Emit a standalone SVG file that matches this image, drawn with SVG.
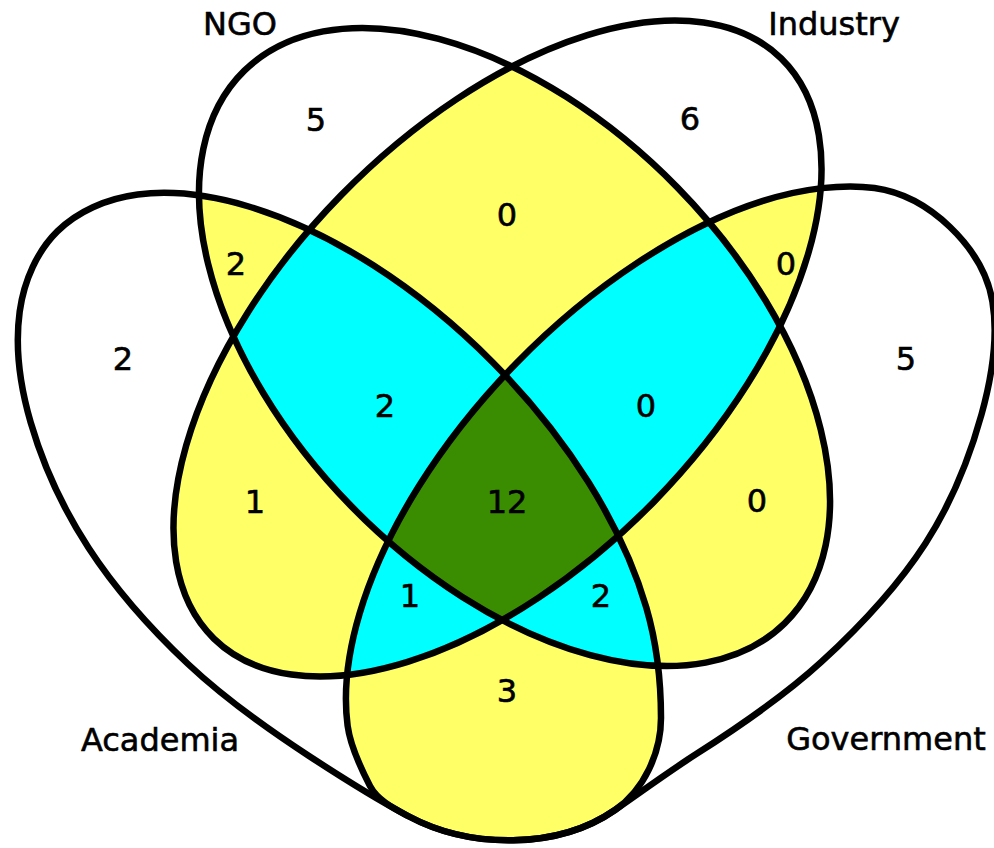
<svg xmlns="http://www.w3.org/2000/svg" width="994" height="848" viewBox="0 0 994 848">
  <style>
    .edge { fill: none; stroke: #000; stroke-width: 6.5; }
    .two { fill: #ffff66; }
    .three { fill: #00ffff; }
    .four { fill: #3a8c00; }
    text { font-family: "DejaVu Sans", "Liberation Sans", sans-serif; font-size: 32px; fill: #000; stroke: #000; stroke-width: 0.6px; text-anchor: middle; }
  </style>
  <defs>
    <!-- the four set outlines; Academia and Government share their bottom arc -->
    <ellipse id="shNGO" cx="0" cy="0" rx="386.4" ry="228" transform="translate(514.5 347) rotate(45.65)"/>
    <ellipse id="shInd" cx="0" cy="0" rx="405.7" ry="219" transform="translate(497.5 348.5) rotate(-45.64)"/>
    <path id="shAca" d="M661,718 C661,752 644.5,789.5 615,810 C557.6,849.9 469.6,848.9 408,816 C375.4,798.6 349.2,782.3 309,756 C268.8,729.7 224.8,698.7 188,664 C151.3,629.3 114.7,588.0 88.5,547.7 C62.3,507.5 42.2,461.9 30.7,422.5 C19.2,383.1 15.3,343.4 19.7,311.5 C24.1,279.7 37.6,250.9 57.3,231.4 C77.0,211.9 105.8,198.7 137.7,194.5 C169.6,190.4 209.4,194.7 248.7,206.5 C288.0,218.3 332.7,239.4 373.3,265.3 C414.0,291.3 456.7,326.0 492.6,362.2 C528.5,398.4 562.9,441.4 588.5,482.3 C614.1,523.2 634.8,568.1 646.3,607.5 C657.8,646.9 661,684 661,718 Z"/>
    <path id="shGov" d="M950,227 C969.65,245.9 987.15,270.15 992.4,301.4 C997.65,332.65 992.67,374.17 981.5,414.5 C970.33,454.83 952.05,502.2 925.4,543.4 C898.75,584.6 859.8,626.58 821.6,661.7 C783.4,696.82 737.32,727.82 696.2,754.1 C668.4,771.9 642.1,791.2 615,810 C557.6,849.9 469.6,848.9 408,816 C393.9,808.5 377.4,800.2 370,786 C360.8,768.2 350.2,745.5 347.6,725.6 C343.42,693.63 347.73,653.38 359.6,613.5 C371.47,573.62 392.68,528.02 418.8,486.3 C444.92,444.58 479.9,400.43 516.3,363.2 C552.7,325.97 596.08,289.95 637.2,262.9 C678.32,235.85 723.45,213.38 763,200.9 C802.55,188.42 843.33,183.65 874.5,188 C905.67,192.35 930.35,208.1 950,227 Z"/>
    <clipPath id="cN"><use href="#shNGO"/></clipPath>
    <clipPath id="cI"><use href="#shInd"/></clipPath>
    <clipPath id="cA"><use href="#shAca"/></clipPath>
    <clipPath id="cG"><use href="#shGov"/></clipPath>
  </defs>

  <rect width="994" height="848" fill="#fff"/>

  <!-- overlap fills: pairs, triples, all four -->
  <g id="regions">
    <use href="#shNGO" class="two" clip-path="url(#cI)"/>
    <use href="#shNGO" class="two" clip-path="url(#cA)"/>
    <use href="#shNGO" class="two" clip-path="url(#cG)"/>
    <use href="#shInd" class="two" clip-path="url(#cA)"/>
    <use href="#shInd" class="two" clip-path="url(#cG)"/>
    <use href="#shAca" class="two" clip-path="url(#cG)"/>
    <g clip-path="url(#cI)"><use href="#shNGO" class="three" clip-path="url(#cA)"/></g>
    <g clip-path="url(#cI)"><use href="#shNGO" class="three" clip-path="url(#cG)"/></g>
    <g clip-path="url(#cA)"><use href="#shNGO" class="three" clip-path="url(#cG)"/></g>
    <g clip-path="url(#cA)"><use href="#shInd" class="three" clip-path="url(#cG)"/></g>
    <g clip-path="url(#cN)"><g clip-path="url(#cI)"><use href="#shAca" class="four" clip-path="url(#cG)"/></g></g>
  </g>

  <g id="set-academia">
    <use href="#shAca" class="edge"/>
    <text x="160" y="751">Academia</text>
  </g>
  <g id="set-government">
    <use href="#shGov" class="edge"/>
    <text x="886" y="750">Government</text>
  </g>
  <g id="set-ngo">
    <use href="#shNGO" class="edge"/>
    <text x="240" y="35">NGO</text>
  </g>
  <g id="set-industry">
    <use href="#shInd" class="edge"/>
    <text x="834" y="35">Industry</text>
  </g>

  <!-- region counts -->
  <g id="counts">
    <text x="316" y="131">5</text>
    <text x="690" y="130">6</text>
    <text x="507" y="226">0</text>
    <text x="236" y="275">2</text>
    <text x="786" y="275">0</text>
    <text x="123" y="370">2</text>
    <text x="906" y="370">5</text>
    <text x="385" y="417">2</text>
    <text x="646" y="417">0</text>
    <text x="255" y="513">1</text>
    <text x="507" y="513">12</text>
    <text x="757" y="512">0</text>
    <text x="410" y="607">1</text>
    <text x="601" y="607">2</text>
    <text x="507" y="702">3</text>
  </g>
</svg>
